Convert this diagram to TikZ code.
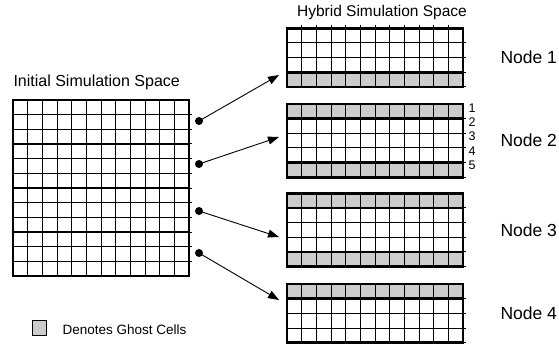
\documentclass[tikz,border=0pt]{standalone}
\usepackage{fontspec}
\setmainfont{Liberation Sans}
\usetikzlibrary{arrows.meta}
\definecolor{ghostgray}{RGB}{204,204,204}
\tikzset{
  thinline/.style={black, line width=1pt},
  thickline/.style={black, line width=2.9pt},
  ghostrow/.style={fill=ghostgray},
  dot/.style={circle, fill=black, inner sep=0pt, minimum size=8pt},
  mapsto/.style={black, line width=0.9pt, -{Triangle[length=11pt,width=8pt]}},
  title/.style={font=\fontsize{16}{18}\selectfont},
  nodelabel/.style={anchor=west, font=\fontsize{17.5}{20}\selectfont},
  rownum/.style={font=\fontsize{12.5}{14}\selectfont},
}
\newcommand{\cellsize}{14.667}

\begin{document}
\begin{tikzpicture}[x=1pt, y=-1pt]
  \useasboundingbox (0,0) rectangle (559,347);
  % initial simulation space
  \node[title, anchor=west] (initial) at (10,82) {Initial Simulation Space};
  \begin{scope}[shift={(13,100)}]
    \foreach \k in {1,...,11} {
      \draw[thinline] ({\k*\cellsize},0) -- ({\k*\cellsize},176);
      \draw[thinline] (0,{\k*\cellsize}) -- (179,{\k*\cellsize});
    }
    \foreach \k in {3,6,9}
      \draw[thickline] (0,{\k*\cellsize}) -- (176,{\k*\cellsize});
    \draw[thickline] (0,0) rectangle (176,176);
  \end{scope}

  % hybrid simulation space
  \node[title, font=\fontsize{15.5}{18}\selectfont] (hybrid) at (382,12) {Hybrid Simulation Space};
  \foreach \gy/\nrows/\ghosts/\seps in {28.3/4/{3}/{3}, 104/5/{0,4}/{1,4}, 193.3/5/{0,4}/{1,4}, 284/4/{0}/{1}} {
    \begin{scope}[shift={(287,\gy)}]
      \foreach \g in \ghosts
        \fill[ghostrow] (0,{\g*\cellsize}) rectangle ++(176,\cellsize);
      \foreach \k in {1,...,11}
        \draw[thinline] ({\k*\cellsize},0) -- ({\k*\cellsize},{\nrows*\cellsize});
      \foreach \k in {1,...,\nrows}
        \draw[thinline] (0,{\k*\cellsize}) -- (179,{\k*\cellsize});
      \foreach \s in \seps
        \draw[thickline] (0,{\s*\cellsize}) -- (176,{\s*\cellsize});
      \draw[thickline] (0,0) rectangle (176,{\nrows*\cellsize});
    \end{scope}
  }
  \foreach \k in {1,...,11}
    \draw[thinline] ({287+\k*\cellsize},28.3) -- ++(0,-3);

  % mapping arrows
  \foreach \i/\dy/\ty in {1/121/75, 2/164/137, 3/211/237, 4/253/300} {
    \node[dot] (d\i) at (199,\dy) {};
    \coordinate (t\i) at (279,\ty);
    \draw[mapsto] (d\i.center) -- (t\i);
  }

  % labels
  \foreach \i/\ny in {1/57.7, 2/140.7, 3/230, 4/313.3}
    \node[nodelabel] (node\i) at (497,\ny) {Node \i};
  \foreach \r in {1,...,5}
    \node[rownum] (row\r) at (472,{108+(\r-1)*14.3}) {\r};

  % legend
  \node[draw, thinline, fill=ghostgray, minimum width=14pt, minimum height=15pt, inner sep=0pt] (key) at (39.5,328) {};
  \node[anchor=west, font=\fontsize{13.5}{16}\selectfont] (keytext) at (59,330) {Denotes Ghost Cells};
\end{tikzpicture}
\end{document}
